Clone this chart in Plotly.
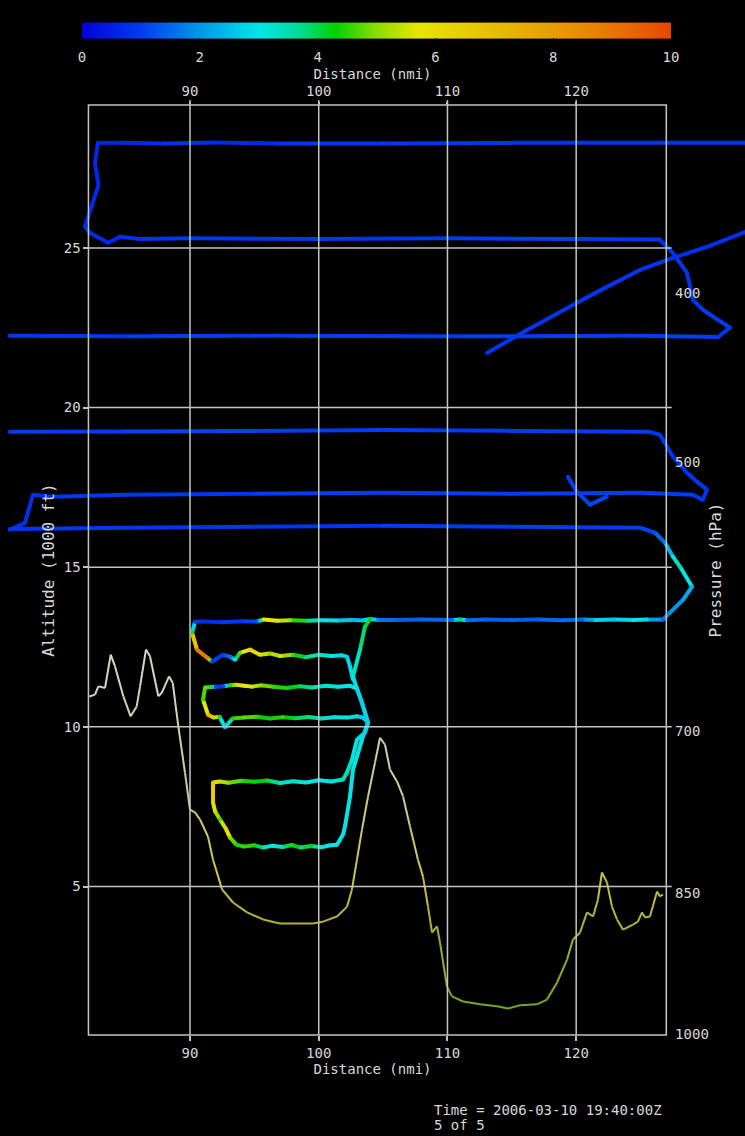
import plotly.graph_objects as go
from plotly.colors import sample_colorscale

# ------------------------------------------------------------------ data
# distance (nmi), altitude (1000 ft), colour value (0-10)
LEG_TOP_X = [133.11, 125.0, 115.0, 105.0, 97.0, 92.0, 88.0, 84.5, 82.85, 82.62, 82.89, 81.84, 82.23,
             83.65, 84.56, 86.1, 90.0, 100.0, 110.0, 120.0, 126.51, 127.52, 128.61, 129.07, 129.85,
             131.95, 131.02, 125.0, 110.0, 95.0, 85.0, 76.0]
LEG_TOP_ALT = [28.29, 28.29, 28.29, 28.27, 28.27, 28.30, 28.27, 28.29, 28.29, 27.66, 26.97, 25.67, 25.47,
               25.16, 25.35, 25.28, 25.30, 25.28, 25.30, 25.28, 25.26, 24.84, 24.22, 23.37, 23.06,
               22.50, 22.21, 22.25, 22.23, 22.25, 22.23, 22.25]
LEG_TOP_VAL = [0.8, 0.9, 0.8, 1.0, 0.8, 0.7, 0.9, 0.6, 0.7, 0.7, 0.7, 0.8, 0.8,
               0.7, 0.8, 0.8, 0.9, 0.8, 1.0, 0.9, 0.8, 0.8, 0.9, 0.8, 1.0,
               0.9, 0.9, 1.0, 0.9, 1.1, 0.9, 0.9]

DIAG_X = [113.07, 116.18, 117.19, 120.06, 122.39, 124.96, 127.52, 130.16, 132.96, 133.11]
DIAG_ALT = [21.71, 22.43, 22.65, 23.28, 23.78, 24.31, 24.69, 25.03, 25.47, 25.50]
DIAG_VAL = [0.8, 0.9, 0.8, 0.9, 0.8, 0.9, 0.8, 0.8, 0.8, 0.8]

LEG_19_X = [76.0, 85.0, 95.0, 105.0, 115.0, 125.73, 126.51, 127.52, 128.61, 129.38, 130.16, 129.85,
            129.07, 125.0, 115.0, 105.0, 95.0, 85.0, 79.36, 77.80, 77.18, 76.0]
LEG_19_ALT = [19.24, 19.25, 19.27, 19.30, 19.27, 19.24, 19.15, 18.46, 17.96, 17.68, 17.43, 17.11,
              17.27, 17.33, 17.30, 17.33, 17.30, 17.27, 17.21, 17.27, 16.39, 16.17]
LEG_19_VAL = [0.9, 1.0, 1.1, 0.9, 1.0, 0.9, 0.9, 0.8, 0.8, 0.9, 0.8, 0.9,
              0.9, 1.0, 0.9, 1.0, 0.9, 0.9, 0.8, 0.8, 0.8, 0.8]

SPIKE_X = [119.36, 120.06, 121.07, 122.39]
SPIKE_ALT = [17.83, 17.36, 16.96, 17.21]
SPIKE_VAL = [1.0, 1.0, 1.2, 1.0]

LEG_16_X = [76.0, 85.0, 95.0, 105.0, 115.0, 124.96, 126.12, 126.90, 127.52, 128.06, 129.0, 128.30,
            127.29, 126.74]
LEG_16_ALT = [16.20, 16.24, 16.27, 16.30, 16.27, 16.24, 16.08, 15.77, 15.33, 15.02, 14.39, 13.98,
              13.58, 13.36]
LEG_16_VAL = [0.8, 0.9, 0.8, 1.0, 0.9, 1.0, 1.2, 1.8, 3.0, 3.6, 2.4, 2.1, 1.9, 1.6]

# westbound leg at 13.3 kft, then first descending box
BOX1_X = [126.74, 125.5, 124.5, 123.0, 121.5, 120.5, 119.0, 117.0, 115.0, 113.0, 111.5, 111.0, 110.4,
          108.0, 106.0, 104.6, 104.0, 103.4, 102.7, 101.4, 100.1, 99.1, 97.8, 96.8, 95.7, 95.2, 94.0,
          92.5, 91.2, 90.39, 90.16, 90.54, 91.32, 91.71, 92.56, 93.11, 93.5, 93.88, 94.66, 95.44, 96.2,
          97.0, 98.0, 99.0, 100.0, 101.0, 101.8, 102.2, 102.43, 102.66]
BOX1_ALT = [13.36, 13.36, 13.35, 13.36, 13.35, 13.36, 13.34, 13.36, 13.35, 13.36, 13.34, 13.36, 13.35,
            13.36, 13.35, 13.35, 13.38, 13.33, 13.35, 13.33, 13.34, 13.32, 13.34, 13.32, 13.36, 13.30, 13.31,
            13.28, 13.30, 13.29, 12.95, 12.42, 12.17, 12.04, 12.26, 12.20, 12.10, 12.32, 12.42, 12.26, 12.30,
            12.22, 12.26, 12.18, 12.26, 12.22, 12.24, 12.20, 11.89, 11.48]
BOX1_VAL = [1.5, 2.8, 3.0, 2.6, 2.8, 1.4, 1.6, 1.3, 1.5, 1.4, 1.7, 4.0, 1.6,
            1.4, 1.5, 1.8, 3.8, 2.6, 2.4, 2.8, 3.2, 3.9, 5.0, 5.8, 5.6, 1.3, 0.8,
            0.9, 0.7, 1.0, 4.5, 8.8, 9.0, 1.0, 1.0, 1.6, 3.0, 4.8, 6.5, 5.8, 5.0,
            5.6, 4.6, 3.8, 3.4, 3.0, 2.8, 2.7, 2.8, 3.0]

BOX2_X = [102.4, 101.5, 100.5, 99.5, 98.5, 97.5, 96.5, 95.5, 94.8, 94.2, 93.6, 93.1, 92.6, 92.0, 91.6,
          91.17, 91.01, 91.40, 91.8, 92.3, 92.72, 93.3, 94.2, 95.2, 96.2, 97.2, 98.2, 99.2, 100.2, 101.2,
          102.2, 103.0, 103.44, 103.83, 103.36, 102.97, 102.4]
BOX2_ALT = [11.29, 11.26, 11.29, 11.23, 11.27, 11.22, 11.26, 11.30, 11.26, 11.29, 11.32, 11.30, 11.27,
            11.26, 11.25, 11.23, 10.85, 10.38, 10.29, 10.32, 9.98, 10.26, 10.29, 10.32, 10.26, 10.30, 10.27,
            10.31, 10.26, 10.30, 10.29, 10.33, 10.29, 10.13, 10.76, 11.20, 11.29]
BOX2_VAL = [3.0, 3.0, 3.2, 3.6, 4.0, 4.4, 4.6, 5.0, 5.6, 5.8, 5.4, 4.5, 1.0, 1.0, 4.5,
            4.8, 4.5, 7.0, 6.8, 4.0, 2.2, 4.4, 4.8, 4.5, 4.2, 4.6, 4.0, 3.8, 3.4, 3.0,
            3.0, 2.8, 2.6, 2.6, 2.8, 3.0, 3.0]

BOX3_X = [103.83, 103.59, 102.97, 102.58, 102.2, 101.89, 101.0, 100.0, 99.0, 98.0, 97.0, 96.0, 95.0,
          94.0, 93.0, 92.3, 91.79, 91.79, 91.95, 92.33, 92.8, 93.11, 93.6, 94.2, 95.0, 95.7, 96.4, 97.2,
          97.9, 98.6, 99.4, 100.2, 100.9, 101.42, 101.89, 102.04, 102.43, 102.66, 102.97, 103.36, 103.83,
          103.36, 102.97, 102.66, 103.21, 103.59, 103.98]
BOX3_ALT = [10.13, 9.82, 9.60, 8.97, 8.57, 8.35, 8.29, 8.33, 8.26, 8.30, 8.24, 8.32, 8.28,
            8.31, 8.25, 8.29, 8.26, 7.63, 7.35, 7.10, 6.80, 6.53, 6.31, 6.25, 6.29, 6.22, 6.28, 6.24,
            6.30, 6.22, 6.27, 6.23, 6.29, 6.31, 6.63, 6.88, 7.82, 8.66, 9.07, 9.60, 10.13,
            10.76, 11.20, 11.57, 12.42, 13.14, 13.36]
BOX3_VAL = [2.6, 2.8, 3.0, 3.2, 3.4, 3.4, 3.0, 3.0, 3.0, 3.4, 3.2, 4.4, 4.2,
            4.6, 5.0, 5.4, 6.6, 6.2, 5.5, 4.6, 6.4, 5.0, 4.4, 4.6, 4.4, 3.6, 3.0, 3.4,
            4.5, 3.8, 4.3, 3.0, 2.9, 3.0, 3.0, 2.9, 3.0, 3.1, 3.0, 2.9, 2.8,
            2.7, 2.9, 3.0, 3.6, 4.0, 4.2]

TRACK_PIECES = [
    (LEG_TOP_X, LEG_TOP_ALT, LEG_TOP_VAL),
    (DIAG_X, DIAG_ALT, DIAG_VAL),
    (LEG_19_X, LEG_19_ALT, LEG_19_VAL),
    (SPIKE_X, SPIKE_ALT, SPIKE_VAL),
    (LEG_16_X, LEG_16_ALT, LEG_16_VAL),
    (BOX1_X, BOX1_ALT, BOX1_VAL),
    (BOX2_X, BOX2_ALT, BOX2_VAL),
    (BOX3_X, BOX3_ALT, BOX3_VAL),
]

TERRAIN_X = [82.18, 82.62, 82.88, 83.40, 83.84, 84.17, 84.82, 85.39, 85.86, 86.12, 86.58, 86.89, 87.54,
             87.80, 88.37, 88.66, 89.09, 89.61, 90.00, 90.39, 90.78, 91.40, 91.79, 92.49, 93.34, 94.43,
             95.67, 96.99, 99.55, 100.33, 101.42, 102.20, 102.58, 102.97, 103.36, 103.83, 104.37, 104.76,
             105.15, 105.54, 106.08, 106.55, 107.09, 107.71, 108.10, 108.49, 108.80, 109.19, 109.42,
             109.96, 110.35, 111.21, 112.53, 113.85, 114.70, 115.64, 116.96, 117.73, 118.51, 119.29,
             119.75, 120.30, 120.84, 121.31, 121.69, 122.00, 122.39, 122.78, 123.17, 123.64, 124.41,
             124.80, 125.11, 125.35, 125.73, 126.28, 126.51, 126.74]
TERRAIN_ALT = [10.95, 11.01, 11.27, 11.22, 12.26, 11.90, 10.96, 10.33, 10.64, 11.27, 12.42, 12.21, 10.96,
               11.06, 11.58, 11.38, 10.02, 8.57, 7.41, 7.32, 7.10, 6.56, 5.84, 4.91, 4.50, 4.19,
               3.97, 3.84, 3.84, 3.90, 4.06, 4.37, 4.91, 5.84, 6.78, 7.82, 8.88, 9.66,
               9.44, 8.66, 8.29, 7.82, 6.88, 5.84, 5.31, 4.37, 3.56, 3.75, 3.25,
               1.87, 1.56, 1.40, 1.31, 1.25, 1.18, 1.28, 1.31, 1.46, 1.99, 2.71,
               3.34, 3.56, 4.19, 4.06, 4.59, 5.44, 5.13, 4.37, 3.97, 3.65, 3.81,
               3.90, 4.19, 4.03, 4.06, 4.84, 4.69, 4.75]

DIST_TICKS = [90, 100, 110, 120]
ALT_TICKS = [5, 10, 15, 20, 25]
PRESSURE_LABELS = ["400", "500", "700", "850", "1000"]
PRESSURE_ALT = [23.57, 18.29, 9.88, 4.78, 0.364]
CBAR_TICKS = [0, 2, 4, 6, 8, 10]

# ------------------------------------------------------------------ styles
CSCALE = [[0.0, "rgb(0,0,220)"], [0.1, "rgb(0,60,240)"], [0.2, "rgb(0,150,235)"],
          [0.3, "rgb(0,230,230)"], [0.37, "rgb(0,220,150)"], [0.43, "rgb(0,210,0)"],
          [0.5, "rgb(140,220,0)"], [0.57, "rgb(230,230,0)"], [0.7, "rgb(230,190,0)"],
          [0.85, "rgb(232,140,0)"], [1.0, "rgb(232,70,0)"]]
TERRAIN_CSCALE = [[0.0, "rgb(110,165,30)"], [0.14, "rgb(150,172,40)"], [0.27, "rgb(178,176,60)"],
                  [0.4, "rgb(200,198,75)"], [0.64, "rgb(205,205,150)"], [1.0, "rgb(215,215,195)"]]
FONT = "DejaVu Sans Mono"
TXT = "#d8d8d8"
GRID = "#c4c4c4"

X_RANGE = [75.24, 133.114]
Y_RANGE = [0.35, 29.476]
PLOT_H = 1136 - 105 - 101
BOX_X0, BOX_X1 = 82.11, 127.0

fig = go.Figure()


def add_colored_line(xs, ys, vals, cscale, vmin, vmax, width):
    groups = {}
    for i in range(len(xs) - 1):
        v = (vals[i] + vals[i + 1]) / 2.0
        t = min(max((v - vmin) / (vmax - vmin), 0.0), 1.0)
        key = round(t, 2)
        gx, gy = groups.setdefault(key, ([], []))
        gx += [xs[i], xs[i + 1], None]
        gy += [ys[i], ys[i + 1], None]
    for key, (gx, gy) in groups.items():
        color = sample_colorscale(cscale, [key])[0]
        fig.add_trace(go.Scatter(x=gx, y=gy, mode="lines",
                                 line=dict(color=color, width=width),
                                 hoverinfo="skip", showlegend=False))


# terrain
add_colored_line(TERRAIN_X, TERRAIN_ALT, TERRAIN_ALT, TERRAIN_CSCALE, 1.0, 12.0, 2)

# flight track
all_x, all_y, all_v = [], [], []
for px, py, pv in TRACK_PIECES:
    add_colored_line(px, py, pv, CSCALE, 0, 10, 4)
    all_x += px
    all_y += py
    all_v += pv

fig.add_trace(go.Scatter(
    x=all_x, y=all_y, mode="markers",
    marker=dict(size=4, color=all_v, colorscale=CSCALE, cmin=0, cmax=10, line=dict(width=0),
                showscale=True,
                colorbar=dict(orientation="h", x=0.5054, xanchor="center", y=1.0656, yanchor="middle",
                              len=0.7906, lenmode="fraction", thickness=16, thicknessmode="pixels",
                              outlinewidth=0, tickvals=CBAR_TICKS, ticks="outside", ticklen=7,
                              tickcolor="black", xpad=0, ypad=0,
                              tickfont=dict(family=FONT, size=14, color=TXT))),
    hoverinfo="skip", showlegend=False))

# dummy trace so that the top / right axes are drawn
fig.add_trace(go.Scatter(x=[None], y=[None], xaxis="x2", yaxis="y2", mode="markers",
                         showlegend=False, hoverinfo="skip"))

shapes = []
for xv in DIST_TICKS:
    shapes.append(dict(type="line", xref="x", yref="paper", x0=xv, x1=xv, y0=0, y1=1 + 5 / PLOT_H,
                       line=dict(color=GRID, width=1.5), layer="above"))
for yv in ALT_TICKS:
    shapes.append(dict(type="line", xref="x", yref="y", x0=BOX_X0, x1=127.42, y0=yv, y1=yv,
                       line=dict(color=GRID, width=1.5), layer="above"))
shapes.append(dict(type="rect", xref="x", yref="paper", x0=BOX_X0, x1=BOX_X1, y0=0, y1=1,
                   line=dict(color=GRID, width=1.5), layer="above"))

tickfont = dict(family=FONT, size=14, color=TXT)
common_x = dict(range=X_RANGE, tickvals=DIST_TICKS, ticks="outside", tickcolor=GRID,
                tickwidth=1.5, showgrid=False, zeroline=False, showline=False, tickfont=tickfont)

fig.update_layout(
    width=745, height=1136,
    margin=dict(l=0, r=0, t=105, b=101, pad=0),
    paper_bgcolor="black", plot_bgcolor="black",
    showlegend=False,
    shapes=shapes,
    xaxis=dict(domain=[0, 1], anchor="y", side="bottom", ticklen=5,
               title=dict(text="Distance (nmi)", font=tickfont, standoff=4), **common_x),
    xaxis2=dict(overlaying="x", anchor="y2", side="top", ticklen=2,
                title=dict(text="Distance (nmi)", font=tickfont, standoff=0), **common_x),
    yaxis=dict(range=Y_RANGE, anchor="free", position=(BOX_X0 - X_RANGE[0]) / (X_RANGE[1] - X_RANGE[0]),
               side="left", tickvals=ALT_TICKS, ticks="outside", ticklen=5, tickcolor=GRID, tickwidth=1.5,
               showgrid=False, zeroline=False, showline=False, tickfont=tickfont,
               title=dict(text="Altitude (1000 ft)", font=dict(family=FONT, size=16, color=TXT), standoff=4)),
    yaxis2=dict(range=Y_RANGE, overlaying="y", anchor="free",
                position=(BOX_X1 - X_RANGE[0]) / (X_RANGE[1] - X_RANGE[0]), side="right",
                tickvals=PRESSURE_ALT, ticktext=PRESSURE_LABELS, ticks="outside", ticklen=5,
                tickcolor="black", showgrid=False, zeroline=False, showline=False, tickfont=tickfont,
                title=dict(text="Pressure (hPa)", font=dict(family=FONT, size=16, color=TXT), standoff=1)),
    annotations=[
        dict(text="Time = 2006-03-10 19:40:00Z", xref="paper", yref="paper", x=432 / 745,
             y=(1035 - 1110) / PLOT_H, xanchor="left", yanchor="middle", showarrow=False, font=tickfont),
        dict(text="5 of 5", xref="paper", yref="paper", x=432 / 745,
             y=(1035 - 1125) / PLOT_H, xanchor="left", yanchor="middle", showarrow=False, font=tickfont),
    ],
)

fig.write_html("out.html")
